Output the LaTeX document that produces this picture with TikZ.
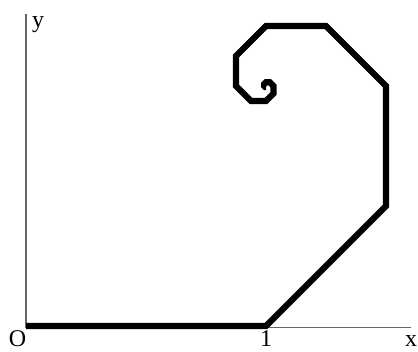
\documentclass[tikz,border=0pt]{standalone}
\usepackage{fontspec}
\setmainfont{Liberation Serif}
\begin{document}
\begin{tikzpicture}[x=0.75pt,y=-0.75pt,
  axis/.style={draw=black!60,line width=0.9pt},
  spiral/.style={draw=black,line width=4.6pt,line join=miter},
  lbl/.style={inner sep=0pt,anchor=base,text depth=0pt,font=\fontsize{18}{19}\selectfont}]
\useasboundingbox (0,0) rectangle (418,351);
% axes
\draw[axis] (26,14) -- (26,327.5) -- (411,327.5);
% labels
\node[lbl] (lO) at (17.5,346) {O};
\node[lbl] (l1) at (266,346) {1};
\node[lbl] (lx) at (411,346) {x};
\node[lbl] (ly) at (38,27) {y};
% spiral
\begin{scope}[shift={(26,326)},x={(180pt,0pt)},y={(0pt,180pt)}]
\draw[spiral] (0,0) -- (1,0) -- (1.5,0.5) -- (1.5,1) -- (1.25,1.25) -- (1,1.25)
  -- (0.875,1.125) -- (0.875,1) -- (0.9375,0.9375) -- (1,0.9375)
  -- (1.03125,0.96875) -- (1.03125,1) -- (1.015625,1.015625) -- (1,1.015625)
  -- (0.9921875,1.0078125) -- (0.9921875,1) -- (0.99609375,0.99609375) -- (1,0.99609375);
\end{scope}
\end{tikzpicture}
\end{document}
